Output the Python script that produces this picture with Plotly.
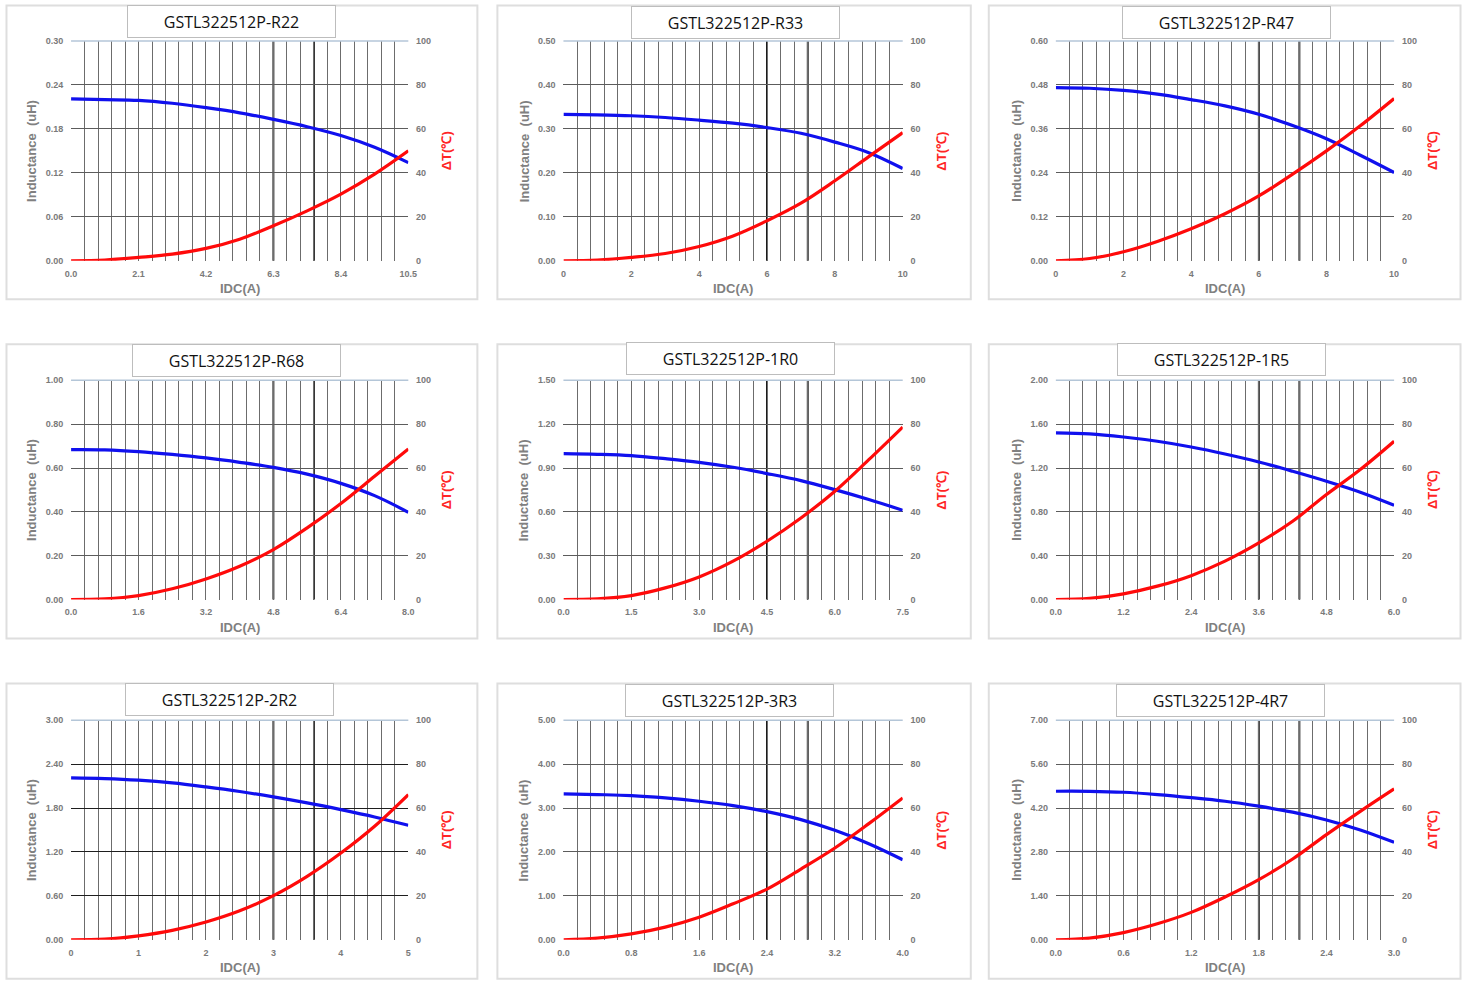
import plotly.graph_objects as go

# ---------------- data ----------------
names = ["GSTL322512P-R22", "GSTL322512P-R33", "GSTL322512P-R47",
         "GSTL322512P-R68", "GSTL322512P-1R0", "GSTL322512P-1R5",
         "GSTL322512P-2R2", "GSTL322512P-3R3", "GSTL322512P-4R7"]

idc_max = [10.5, 10, 10, 8.0, 7.5, 6.0, 5, 4.0, 3.0]
l_max = [0.30, 0.50, 0.60, 1.00, 1.50, 2.00, 3.00, 5.00, 7.00]
dt_max = 100

x_labels = [
    ["0.0", "2.1", "4.2", "6.3", "8.4", "10.5"],
    ["0", "2", "4", "6", "8", "10"],
    ["0", "2", "4", "6", "8", "10"],
    ["0.0", "1.6", "3.2", "4.8", "6.4", "8.0"],
    ["0.0", "1.5", "3.0", "4.5", "6.0", "7.5"],
    ["0.0", "1.2", "2.4", "3.6", "4.8", "6.0"],
    ["0", "1", "2", "3", "4", "5"],
    ["0.0", "0.8", "1.6", "2.4", "3.2", "4.0"],
    ["0.0", "0.6", "1.2", "1.8", "2.4", "3.0"],
]
y_labels = [
    ["0.00", "0.06", "0.12", "0.18", "0.24", "0.30"],
    ["0.00", "0.10", "0.20", "0.30", "0.40", "0.50"],
    ["0.00", "0.12", "0.24", "0.36", "0.48", "0.60"],
    ["0.00", "0.20", "0.40", "0.60", "0.80", "1.00"],
    ["0.00", "0.30", "0.60", "0.90", "1.20", "1.50"],
    ["0.00", "0.40", "0.80", "1.20", "1.60", "2.00"],
    ["0.00", "0.60", "1.20", "1.80", "2.40", "3.00"],
    ["0.00", "1.00", "2.00", "3.00", "4.00", "5.00"],
    ["0.00", "1.40", "2.80", "4.20", "5.60", "7.00"],
]
dt_labels = ["0", "20", "40", "60", "80", "100"]

idc_R22 = [0, 1.05, 2.1, 3.15, 4.2, 5.25, 6.3, 7.35, 8.4, 9.45, 10.5]
L_R22 = [0.221, 0.220, 0.219, 0.215, 0.209, 0.202, 0.193, 0.183, 0.171, 0.155, 0.134]
dT_R22 = [0, 0.3, 1.5, 3.0, 5.6, 9.8, 15.9, 22.7, 30.3, 39.4, 50.0]

idc_R33 = [0, 1, 2, 3, 4, 5, 6, 7, 8, 9, 10]
L_R33 = [0.333, 0.332, 0.330, 0.326, 0.320, 0.313, 0.303, 0.290, 0.270, 0.246, 0.210]
dT_R33 = [0, 0.3, 1.5, 3.3, 6.5, 11.3, 18.2, 26.2, 36.4, 47.4, 58.3]

idc_R47 = [0, 1, 2, 3, 4, 5, 6, 7, 8, 9, 10]
L_R47 = [0.473, 0.471, 0.465, 0.455, 0.440, 0.423, 0.400, 0.369, 0.333, 0.288, 0.241]
dT_R47 = [0, 1.0, 4.1, 8.8, 14.6, 21.4, 29.5, 39.4, 50.0, 61.4, 73.8]

idc_R68 = [0, 0.8, 1.6, 2.4, 3.2, 4.0, 4.8, 5.6, 6.4, 7.2, 8.0]
L_R68 = [0.684, 0.683, 0.675, 0.662, 0.646, 0.626, 0.603, 0.572, 0.530, 0.474, 0.398]
dT_R68 = [0, 0.3, 1.8, 4.9, 9.4, 15.2, 22.8, 32.7, 43.8, 56.2, 68.7]

idc_1R0 = [0, 0.75, 1.5, 2.25, 3.0, 3.75, 4.5, 5.25, 6.0, 6.75, 7.5]
L_1R0 = [0.998, 0.994, 0.985, 0.964, 0.939, 0.905, 0.862, 0.814, 0.752, 0.684, 0.611]
dT_1R0 = [0, 0.3, 1.8, 5.3, 10.3, 17.5, 26.6, 37.2, 49.4, 63.8, 78.7]

idc_1R5 = [0, 0.6, 1.2, 1.8, 2.4, 3.0, 3.6, 4.2, 4.8, 5.4, 6.0]
L_1R5 = [1.520, 1.511, 1.483, 1.444, 1.392, 1.328, 1.255, 1.170, 1.079, 0.979, 0.860]
dT_1R5 = [0, 0.5, 2.6, 6.1, 10.9, 17.5, 25.8, 35.7, 47.9, 59.3, 72.2]

idc_2R2 = [0, 0.5, 1.0, 1.5, 2.0, 2.5, 3.0, 3.5, 4.0, 4.5, 5.0]
L_2R2 = [2.212, 2.202, 2.180, 2.143, 2.088, 2.025, 1.952, 1.870, 1.778, 1.678, 1.564]
dT_2R2 = [0, 0.3, 1.8, 4.3, 8.1, 13.2, 20.1, 28.9, 39.5, 51.7, 66.1]

idc_3R3 = [0, 0.4, 0.8, 1.2, 1.6, 2.0, 2.4, 2.8, 3.2, 3.6, 4.0]
L_3R3 = [3.321, 3.306, 3.283, 3.230, 3.154, 3.055, 2.918, 2.736, 2.492, 2.188, 1.824]
dT_3R3 = [0, 0.8, 2.7, 5.8, 10.3, 16.4, 23.1, 32.2, 41.8, 52.9, 64.6]

idc_4R7 = [0, 0.3, 0.6, 0.9, 1.2, 1.5, 1.8, 2.1, 2.4, 2.7, 3.0]
L_4R7 = [4.734, 4.732, 4.702, 4.628, 4.530, 4.415, 4.258, 4.070, 3.820, 3.500, 3.106]
dT_4R7 = [0, 0.8, 3.3, 7.3, 12.5, 19.5, 27.4, 36.8, 47.9, 58.5, 68.7]

idc_all = [idc_R22, idc_R33, idc_R47, idc_R68, idc_1R0, idc_1R5, idc_2R2, idc_3R3, idc_4R7]
L_all = [L_R22, L_R33, L_R47, L_R68, L_1R0, L_1R5, L_2R2, L_3R3, L_4R7]
dT_all = [dT_R22, dT_R33, dT_R47, dT_R68, dT_1R0, dT_1R5, dT_2R2, dT_3R3, dT_4R7]

# ---------------- layout geometry (target pixels) ----------------
W, H = 1470, 989
SC, OFF = 0.989, 6.0   # compensation for the capture's scale/offset


def T(q):
    return min(max((q - OFF) / SC, 0.5), 1469.5)


plot_x = [(71, 408), (563, 902), (1055, 1393)]
plot_y = [(42, 261.5), (381, 600), (720.5, 940)]
panel_x = [(5, 477), (497, 970), (988, 1462)]
panel_y = [(5, 300), (345, 639), (684, 979)]
title_c = [(231.5, 22), (734.5, 23), (1226, 23),
           (236, 361), (729.5, 359.5), (1220.5, 360),
           (229, 699.5), (729, 701), (1220, 701)]

TICK_FONT = dict(family="Liberation Sans, Arial, sans-serif", size=9, color="#7a7a7a", weight="bold")
AX_FONT = dict(family="Liberation Sans, Arial, sans-serif", size=13, color="#808080", weight="bold")

fig = go.Figure()
layout = dict(width=W, height=H, margin=dict(l=0, r=0, t=0, b=0),
              paper_bgcolor="white", plot_bgcolor="white", showlegend=False)
shapes = []
annotations = []


def px2x(p):
    return T(p) / W


def px2y(p):
    return 1 - T(p) / H


for i in range(9):
    r, c = divmod(i, 3)
    n = i + 1
    xa = f"x{n}" if n > 1 else "x"
    ya1 = f"y{2*n-1}" if 2 * n - 1 > 1 else "y"
    ya2 = f"y{2*n}"
    xd = [px2x(plot_x[c][0]), px2x(plot_x[c][1])]
    yd = [px2y(plot_y[r][1]), px2y(plot_y[r][0])]
    xm = idc_max[i]
    xt = [xm * k / 25 for k in range(26)]
    xtt = [x_labels[i][k // 5] if k % 5 == 0 else "" for k in range(26)]
    yt = [l_max[i] * k / 5 for k in range(6)]
    hgrid = "#1e1e1e" if i == 6 else "#5c5c5c"

    layout[f"xaxis{n}"] = dict(domain=xd, anchor=ya1, range=[0, xm], tickvals=xt, ticktext=xtt,
                               showgrid=True, gridcolor="#6c6c6c", gridwidth=1,
                               zeroline=False, showline=False, ticks="outside", ticklen=4,
                               tickcolor="rgba(0,0,0,0)", tickfont=TICK_FONT, fixedrange=True)
    layout[f"yaxis{2*n-1}"] = dict(domain=yd, anchor=xa, range=[0, l_max[i]], tickvals=yt,
                                   ticktext=y_labels[i], showgrid=True, gridcolor=hgrid, gridwidth=1,
                                   zeroline=False, showline=False, ticks="outside", ticklen=5,
                                   tickcolor="rgba(0,0,0,0)", tickfont=TICK_FONT)
    layout[f"yaxis{2*n}"] = dict(domain=yd, anchor=xa, overlaying=ya1, side="right",
                                 range=[0, dt_max], tickvals=[0, 20, 40, 60, 80, 100],
                                 ticktext=dt_labels, showgrid=False, zeroline=False, showline=False,
                                 ticks="outside", ticklen=5, tickcolor="rgba(0,0,0,0)",
                                 tickfont=TICK_FONT)

    fig.add_trace(go.Scatter(x=idc_all[i], y=L_all[i], mode="lines", xaxis=xa, yaxis=ya1,
                             line=dict(color="#1010ee", width=3.2, shape="spline", smoothing=1.0)))
    fig.add_trace(go.Scatter(x=idc_all[i], y=dT_all[i], mode="lines", xaxis=xa, yaxis=ya2,
                             line=dict(color="#ff0a0a", width=3.2, shape="spline", smoothing=1.0)))

    # darker vertical lines
    for k in (15, 18):
        shapes.append(dict(type="line", xref=xa, yref=f"{ya1} domain", x0=xm * k / 25, x1=xm * k / 25,
                           y0=0, y1=1, line=dict(color="#000000", width=1.8), layer="below"))
    # plot area top border
    shapes.append(dict(type="line", xref="paper", yref="paper", x0=xd[0], x1=xd[1], y0=yd[1], y1=yd[1],
                       line=dict(color="#b4c6d8", width=1.5)))
    # panel frame
    shapes.append(dict(type="rect", xref="paper", yref="paper",
                       x0=px2x(panel_x[c][0]), x1=px2x(panel_x[c][1]),
                       y0=px2y(panel_y[r][1]), y1=px2y(panel_y[r][0]),
                       line=dict(color="#dedede", width=2), fillcolor="rgba(0,0,0,0)", layer="below"))

    # title box
    tcx, tcy = title_c[i]
    annotations.append(dict(x=px2x(tcx), y=px2y(tcy), xref="paper", yref="paper", text=names[i],
                            showarrow=False, width=205, height=29, bordercolor="#bdbdbd",
                            borderwidth=1, bgcolor="white", xanchor="center", yanchor="middle",
                            font=dict(family="Open Sans, Noto Sans, sans-serif", size=16, color="#111")))
    # axis titles
    pw = (plot_x[c][1] - plot_x[c][0]) / SC
    ph = (plot_y[r][1] - plot_y[r][0]) / SC
    annotations.append(dict(x=-39 / SC / pw, y=0.5, xref=f"{xa} domain", yref=f"{ya1} domain",
                            text="Inductance  (uH)", textangle=-90, showarrow=False,
                            xanchor="center", yanchor="middle", font=AX_FONT))
    annotations.append(dict(x=1 + 39 / SC / pw, y=0.5, xref=f"{xa} domain", yref=f"{ya1} domain",
                            text="ΔT(℃)", textangle=-90, showarrow=False,
                            xanchor="center", yanchor="middle",
                            font=dict(family=AX_FONT["family"], size=13, color="#ff2525", weight="bold")))
    annotations.append(dict(x=0.5, y=-28 / SC / ph, xref=f"{xa} domain", yref=f"{ya1} domain",
                            text="IDC(A)", showarrow=False, xanchor="center", yanchor="middle",
                            font=AX_FONT))

layout["shapes"] = shapes
layout["annotations"] = annotations
fig.update_layout(**layout)
fig.write_html("out.html", config={"displayModeBar": False},
               post_script="document.body.style.margin='0';document.body.style.overflow='hidden';")
